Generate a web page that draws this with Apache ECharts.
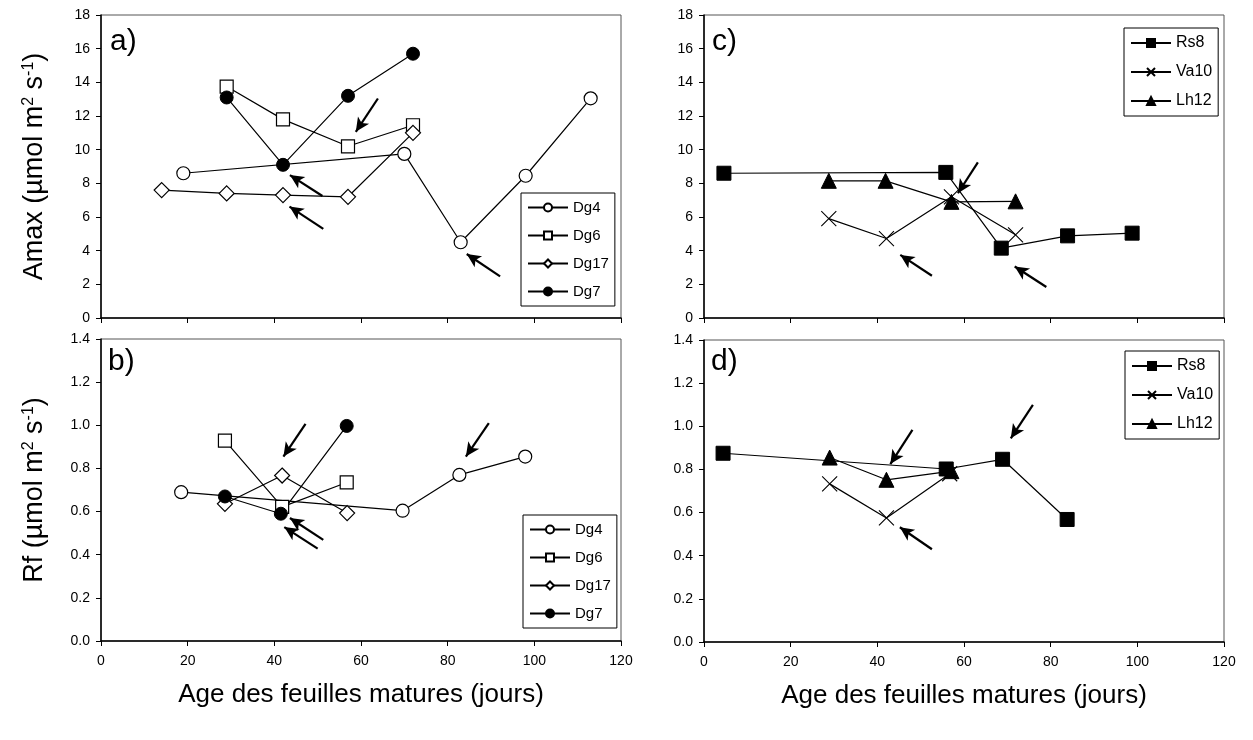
<!DOCTYPE html>
<html><head><meta charset="utf-8">
<script src="https://cdn.jsdelivr.net/npm/echarts@6/dist/echarts.min.js"></script>
<style>html,body{margin:0;padding:0;background:#fff}#c{width:1253px;height:740px}</style>
</head><body><div id="c"></div><script>
// ---- data ----
const xMin = 0, xMax = 120, xStep = 20;
const amaxMin = 0, amaxMax = 18, amaxStep = 2;
const rfMin = 0, rfMax = 1.4, rfStep = 0.2;
const legendAB = ['Dg4', 'Dg6', 'Dg17', 'Dg7'];
const legendCD = ['Rs8', 'Va10', 'Lh12'];
const panelLetters = ['a)', 'b)', 'c)', 'd)'];
const xTitle = 'Age des feuilles matures (jours)';

// panel a (Amax)
const dg4A  = [[19, 8.6], [70, 9.75], [83, 4.5], [98, 8.45], [113, 13.05]];
const dg6A  = [[29, 13.75], [42, 11.8], [57, 10.2], [72, 11.45]];
const dg17A = [[14, 7.6], [29, 7.4], [42, 7.3], [57, 7.2], [72, 11.0]];
const dg7A  = [[29, 13.1], [42, 9.1], [57, 13.2], [72, 15.7]];
// panel b (Rf)
const dg4B  = [[18.5, 0.69], [69.6, 0.604], [82.7, 0.77], [97.9, 0.855]];
const dg6B  = [[28.6, 0.929], [41.8, 0.622], [56.7, 0.735]];
const dg17B = [[28.6, 0.636], [41.8, 0.767], [56.8, 0.593]];
const dg7B  = [[28.6, 0.67], [41.5, 0.59], [56.7, 0.997]];
// panel c (Amax)
const rs8C  = [[4.6, 8.6], [55.8, 8.65], [68.6, 4.15], [83.9, 4.88], [98.8, 5.04]];
const va10C = [[28.8, 5.9], [42.1, 4.72], [57.1, 7.2], [71.9, 4.94]];
const lh12C = [[28.8, 8.15], [41.9, 8.15], [57.1, 6.9], [71.9, 6.93]];
// panel d (Rf)
const rs8D  = [[4.4, 0.875], [55.9, 0.802], [68.9, 0.847], [83.8, 0.568]];
const va10D = [[29, 0.733], [42.1, 0.575], [56.7, 0.78]];
const lh12D = [[29, 0.855], [42.1, 0.752], [57.1, 0.792]];

// arrows (annotation): [tailX, tailY, headX, headY] in data units
const arrowsA = [[63.9, 13.04, 58.8, 11.06], [51.1, 7.25, 43.6, 8.49], [51.3, 5.29, 43.5, 6.62], [92.1, 2.47, 84.4, 3.8]];
const arrowsB = [[47.2, 1.006, 42.1, 0.855], [51.3, 0.469, 43.6, 0.57], [50.0, 0.428, 42.3, 0.528], [89.5, 1.01, 84.2, 0.855]];
const arrowsC = [[63.2, 9.25, 58.6, 7.41], [52.6, 2.51, 45.3, 3.75], [79.0, 1.84, 71.7, 3.06]];
const arrowsD = [[48.1, 0.983, 43.0, 0.825], [52.6, 0.43, 45.2, 0.532], [75.9, 1.099, 70.8, 0.944]];

// ---- chart ----
const FONT = 'Liberation Sans, Arial, sans-serif';
const CROSS = 'path://M0,0L10,10M0,10L10,0';

const grids = [
  {left: 101, top: 15, width: 520, height: 303},
  {left: 101, top: 339, width: 520, height: 302},
  {left: 704, top: 15, width: 520, height: 303},
  {left: 704, top: 340, width: 520, height: 302}
].map(g => Object.assign(g, {show: true, borderColor: '#555', borderWidth: 1, containLabel: false}));

function xAx(gi, labels) {
  return {
    type: 'value', gridIndex: gi, min: xMin, max: xMax, interval: xStep,
    axisLine: {show: true, onZero: false, lineStyle: {color: '#000', width: 1.5}},
    axisTick: {show: true, inside: false, length: 5, lineStyle: {color: '#000', width: 1}},
    axisLabel: {show: labels, color: '#000', fontSize: 14, fontFamily: FONT, margin: 13},
    splitLine: {show: false},
    name: labels ? xTitle : '', nameLocation: 'middle', nameGap: 41,
    nameTextStyle: {color: '#000', fontSize: 26, fontFamily: FONT}
  };
}
function yAx(gi, mn, mx, st, dec, title) {
  return {
    type: 'value', gridIndex: gi, min: mn, max: mx, interval: st,
    axisLine: {show: true, onZero: false, lineStyle: {color: '#000', width: 1.5}},
    axisTick: {show: true, inside: false, length: 5, lineStyle: {color: '#000', width: 1}},
    axisLabel: {color: '#000', fontSize: 14, fontFamily: FONT, margin: 11,
      formatter: v => v.toFixed(dec)},
    splitLine: {show: false},
    name: title, nameLocation: 'middle', nameGap: 53, nameRotate: 90,
    nameTextStyle: {rich: {
      t: {color: '#000', fontSize: 27, fontFamily: FONT},
      s: {color: '#000', fontSize: 16, fontFamily: FONT, verticalAlign: 'top'}
    }}
  };
}

const styles = {
  Dg4:  {symbol: 'circle', symbolSize: 13, itemStyle: {color: '#fff', borderColor: '#000', borderWidth: 1.2}},
  Dg6:  {symbol: 'rect', symbolSize: 13, itemStyle: {color: '#fff', borderColor: '#000', borderWidth: 1.2}},
  Dg17: {symbol: 'diamond', symbolSize: 15, itemStyle: {color: '#fff', borderColor: '#000', borderWidth: 1.2}},
  Dg7:  {symbol: 'circle', symbolSize: 13, itemStyle: {color: '#000', borderColor: '#000', borderWidth: 1}},
  Rs8:  {symbol: 'rect', symbolSize: 14, itemStyle: {color: '#000', borderColor: '#000', borderWidth: 1}},
  Va10: {symbol: CROSS, symbolSize: 15, itemStyle: {color: '#000', borderColor: '#000', borderWidth: 1.1}},
  Lh12: {symbol: 'triangle', symbolSize: 15, itemStyle: {color: '#000', borderColor: '#000', borderWidth: 1}}
};

function ser(name, data, gi, arrows) {
  const s = Object.assign({
    type: 'line', name: name, data: data, xAxisIndex: gi, yAxisIndex: gi,
    showSymbol: true, showAllSymbol: true, animation: false, silent: true,
    lineStyle: {color: '#000', width: 1.2}, z: 3
  }, styles[name]);
  if (arrows) {
    s.markLine = {
      silent: true, animation: false, symbol: ['none', 'arrow'], symbolSize: [10, 14],
      label: {show: false},
      lineStyle: {color: '#000', width: 2.2, type: 'solid'},
      emphasis: {disabled: true},
      data: arrows.map(a => [{coord: [a[0], a[1]], symbol: 'none'}, {coord: [a[2], a[3]], symbol: 'arrow'}])
    };
  }
  return s;
}

function leg(names, left, top, gap, fs) {
  return {
    data: names, orient: 'vertical', left: left, top: top,
    itemWidth: 40, itemHeight: 10, itemGap: gap,
    padding: [7, 6, 7, 6], borderColor: '#000', borderWidth: 1,
    textStyle: {color: '#000', fontSize: fs, fontFamily: FONT}, selectedMode: false
  };
}

const amaxTitle = '{t|Amax (µmol m}{s|2}{t| s}{s|-1}{t|)}';
const rfTitle = '{t|Rf (µmol m}{s|2}{t| s}{s|-1}{t|)}';

const option = {
  backgroundColor: '#fff',
  animation: false,
  grid: grids,
  xAxis: [xAx(0, false), xAx(1, true), xAx(2, false), xAx(3, true)],
  yAxis: [
    yAx(0, amaxMin, amaxMax, amaxStep, 0, amaxTitle),
    yAx(1, rfMin, rfMax, rfStep, 1, rfTitle),
    yAx(2, amaxMin, amaxMax, amaxStep, 0, ''),
    yAx(3, rfMin, rfMax, rfStep, 1, '')
  ],
  legend: [
    leg(legendAB, 521, 193, 13, 15),
    leg(legendAB, 523, 515, 13, 15),
    leg(legendCD, 1124, 28, 13, 16),
    leg(legendCD, 1125, 351, 13, 16)
  ],
  series: [
    ser('Dg4', dg4A, 0, arrowsA), ser('Dg6', dg6A, 0), ser('Dg17', dg17A, 0), ser('Dg7', dg7A, 0),
    ser('Dg4', dg4B, 1, arrowsB), ser('Dg6', dg6B, 1), ser('Dg17', dg17B, 1), ser('Dg7', dg7B, 1),
    ser('Rs8', rs8C, 2, arrowsC), ser('Va10', va10C, 2), ser('Lh12', lh12C, 2),
    ser('Rs8', rs8D, 3, arrowsD), ser('Va10', va10D, 3), ser('Lh12', lh12D, 3)
  ],
  graphic: [
    {type: 'text', left: 110, top: 27, style: {text: panelLetters[0], font: '30px ' + FONT, fill: '#000'}},
    {type: 'text', left: 108, top: 347, style: {text: panelLetters[1], font: '30px ' + FONT, fill: '#000'}},
    {type: 'text', left: 712, top: 27, style: {text: panelLetters[2], font: '30px ' + FONT, fill: '#000'}},
    {type: 'text', left: 711, top: 347, style: {text: panelLetters[3], font: '30px ' + FONT, fill: '#000'}}
  ]
};
const chart = echarts.init(document.getElementById('c'), null, {renderer: 'canvas'});
chart.setOption(option);
</script></body></html>
